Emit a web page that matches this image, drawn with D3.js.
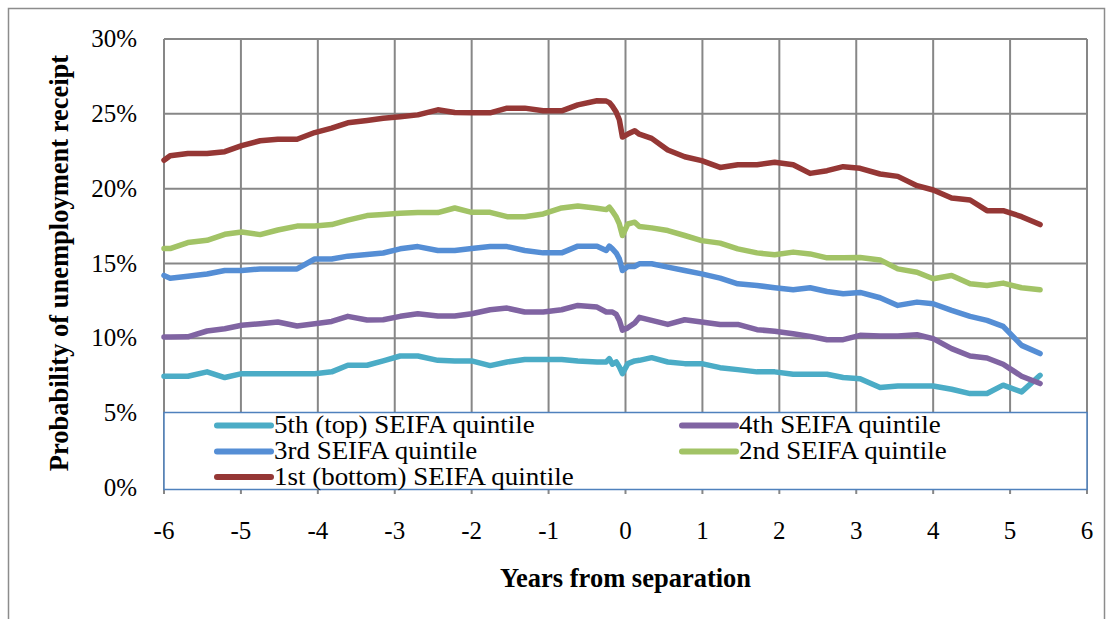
<!DOCTYPE html>
<html>
<head>
<meta charset="utf-8">
<script src="https://cdn.jsdelivr.net/npm/d3@7"></script>
<style>
  html, body { margin: 0; padding: 0; background: #fff; }
  svg { display: block; }
  svg text { font-family: "Liberation Serif", "Times New Roman", Times, serif; }
</style>
</head>
<body>
<div id="holder"></div>
<script>
// years from separation (shared x grid)
var years = [-6.00, -5.92, -5.69, -5.44, -5.21, -4.99, -4.75, -4.52, -4.27, -4.04,
  -3.82, -3.61, -3.36, -3.15, -2.93, -2.70, -2.44, -2.22, -2.00, -1.76,
  -1.54, -1.31, -1.07, -0.83, -0.62, -0.37, -0.25, -0.21, -0.17, -0.12,
  -0.08, -0.04, 0.03, 0.12, 0.18, 0.34, 0.55, 0.77, 0.99, 1.23,
  1.46, 1.71, 1.94, 2.18, 2.40, 2.62, 2.83, 3.05, 3.31, 3.54,
  3.79, 4.00, 4.24, 4.48, 4.70, 4.91, 5.15, 5.39];

// probability (%) per SEIFA quintile
var q5top = [7.47, 7.47, 7.47, 7.76, 7.38, 7.64, 7.64, 7.64, 7.64, 7.64,
  7.76, 8.2, 8.2, 8.49, 8.82, 8.82, 8.53, 8.49, 8.49, 8.18,
  8.42, 8.58, 8.58, 8.58, 8.49, 8.42, 8.42, 8.64, 8.27, 8.42,
  8.09, 7.64, 8.31, 8.49, 8.53, 8.71, 8.42, 8.31, 8.31, 8.04,
  7.91, 7.76, 7.76, 7.6, 7.6, 7.6, 7.38, 7.3, 6.71, 6.82,
  6.82, 6.82, 6.6, 6.31, 6.31, 6.87, 6.42, 7.53];
var q4 = [10.09, 10.09, 10.1, 10.49, 10.64, 10.87, 10.98, 11.09, 10.82, 10.98,
  11.13, 11.47, 11.22, 11.24, 11.47, 11.64, 11.49, 11.49, 11.64, 11.91,
  12.02, 11.76, 11.76, 11.91, 12.2, 12.09, 11.76, 11.76, 11.76, 11.6,
  11.2, 10.55, 10.7, 11.02, 11.4, 11.2, 10.93, 11.24, 11.09, 10.93,
  10.93, 10.58, 10.47, 10.31, 10.13, 9.91, 9.91, 10.2, 10.16, 10.16,
  10.24, 9.98, 9.31, 8.82, 8.69, 8.27, 7.47, 6.98];
var q3 = [14.2, 14.02, 14.15, 14.3, 14.53, 14.53, 14.64, 14.64, 14.64, 15.3,
  15.3, 15.49, 15.6, 15.7, 15.98, 16.13, 15.87, 15.87, 16.0, 16.13,
  16.13, 15.87, 15.71, 15.71, 16.16, 16.16, 15.87, 16.16, 15.98, 15.7,
  15.31, 14.53, 14.8, 14.8, 14.98, 14.98, 14.76, 14.53, 14.31, 14.02,
  13.64, 13.53, 13.38, 13.24, 13.38, 13.13, 12.98, 13.07, 12.71, 12.2,
  12.42, 12.31, 11.87, 11.47, 11.2, 10.8, 9.53, 8.98];
var q2 = [16.0, 16.0, 16.4, 16.55, 16.95, 17.1, 16.93, 17.24, 17.5, 17.5,
  17.6, 17.9, 18.2, 18.27, 18.35, 18.4, 18.4, 18.71, 18.42, 18.42,
  18.13, 18.13, 18.31, 18.71, 18.84, 18.69, 18.6, 18.76, 18.49, 18.1,
  17.64, 16.87, 17.64, 17.76, 17.47, 17.38, 17.2, 16.87, 16.53, 16.36,
  15.98, 15.71, 15.58, 15.76, 15.64, 15.38, 15.38, 15.4, 15.24, 14.64,
  14.42, 13.98, 14.2, 13.64, 13.53, 13.69, 13.38, 13.24];
var q1bottom = [21.9, 22.2, 22.35, 22.35, 22.47, 22.87, 23.2, 23.3, 23.3, 23.75,
  24.04, 24.4, 24.55, 24.7, 24.8, 24.93, 25.27, 25.09, 25.07, 25.07,
  25.38, 25.38, 25.2, 25.2, 25.6, 25.87, 25.85, 25.75, 25.5, 25.1,
  24.6, 23.45, 23.65, 23.87, 23.64, 23.36, 22.58, 22.13, 21.87, 21.42,
  21.6, 21.6, 21.76, 21.6, 21.02, 21.2, 21.47, 21.36, 20.98, 20.82,
  20.2, 19.91, 19.38, 19.24, 18.53, 18.53, 18.13, 17.6];

var seriesNames = ["5th (top) SEIFA quintile", "4th SEIFA quintile", "3rd SEIFA quintile",
  "2nd SEIFA quintile", "1st (bottom) SEIFA quintile"];
var seriesColors = ["#4bacc6", "#8064a2", "#558ed5", "#a2c366", "#953735"];
var seriesValues = [q5top, q4, q3, q2, q1bottom];

var xTicks = [-6, -5, -4, -3, -2, -1, 0, 1, 2, 3, 4, 5, 6];
var yTicks = [0, 5, 10, 15, 20, 25, 30];

var FONT = '"Liberation Serif", "Times New Roman", Times, serif';

var W = 1112, H = 619;
var svg = d3.select('#holder').append('svg').attr('width', W).attr('height', H);

// chart frame
svg.append('rect')
  .attr('x', 8.5).attr('y', 8.5).attr('width', 1096).attr('height', 640)
  .style('fill', 'none').style('stroke', '#8c8c8c').style('stroke-width', 1.5);

var x = d3.scaleLinear().domain([-6, 6]).range([164, 1087]);
var y = d3.scaleLinear().domain([0, 30]).range([488, 39]);

// gridlines
var grid = svg.append('g').style('stroke', '#878787').style('stroke-width', 2);
grid.selectAll('.vg').data(xTicks).enter().append('line')
  .attr('x1', d => x(d)).attr('x2', d => x(d))
  .attr('y1', y(30)).attr('y2', y(0) + 6);
grid.selectAll('.hg').data(yTicks).enter().append('line')
  .attr('x1', x(-6)).attr('x2', x(6))
  .attr('y1', d => y(d)).attr('y2', d => y(d));

// y tick labels
svg.append('g').selectAll('text').data(yTicks).enter().append('text')
  .attr('x', 137).attr('y', d => y(d) + 8)
  .attr('text-anchor', 'end')
  .attr('font-family', FONT)
  .style('font-size', '25px').style('fill', '#000')
  .text(d => d + '%');

// x tick labels
svg.append('g').selectAll('text').data(xTicks).enter().append('text')
  .attr('x', d => x(d)).attr('y', 539)
  .attr('text-anchor', 'middle')
  .attr('font-family', FONT)
  .style('font-size', '25px').style('fill', '#000')
  .text(d => d);

// axis titles
svg.append('text')
  .attr('x', x(0)).attr('y', 587)
  .attr('text-anchor', 'middle')
  .attr('font-family', FONT)
  .style('font-size', '26.5px').style('font-weight', 'bold')
  .text('Years from separation');

svg.append('text')
  .attr('transform', 'translate(68,263) rotate(-90)')
  .attr('text-anchor', 'middle')
  .attr('font-family', FONT)
  .style('font-size', '26.5px').style('font-weight', 'bold')
  .text('Probability of unemployment  receipt');

// series lines
var line = d3.line()
  .x((d, i) => x(years[i]))
  .y(d => y(d));

svg.append('g').selectAll('path').data(seriesValues).enter().append('path')
  .attr('d', d => line(d))
  .style('fill', 'none')
  .style('stroke', (d, i) => seriesColors[i])
  .style('stroke-width', 5.5)
  .style('stroke-linejoin', 'round')
  .style('stroke-linecap', 'round');

// legend box (drawn over the plot, as in the original)
var legend = svg.append('g');
legend.append('rect')
  .attr('x', 164).attr('y', 412.5).attr('width', 923).attr('height', 77)
  .style('fill', '#fff').style('stroke', '#4f81bd').style('stroke-width', 1.5);

var legendPos = [
  {col: 0, row: 0}, {col: 1, row: 0},
  {col: 0, row: 1}, {col: 1, row: 1},
  {col: 0, row: 2}
];
var colX = [217, 682];
var rowY = [425.5, 451.5, 477];

var items = legend.selectAll('.item').data(seriesNames).enter().append('g');
items.append('line')
  .attr('x1', (d, i) => colX[legendPos[i].col])
  .attr('x2', (d, i) => colX[legendPos[i].col] + 54)
  .attr('y1', (d, i) => rowY[legendPos[i].row])
  .attr('y2', (d, i) => rowY[legendPos[i].row])
  .style('stroke', (d, i) => seriesColors[i])
  .style('stroke-width', 6)
  .style('stroke-linecap', 'round');
items.append('text')
  .attr('transform', (d, i) => 'translate(' + (colX[legendPos[i].col] + 57) + ',' +
    (rowY[legendPos[i].row] + 7.5) + ') scale(1.1,1)')
  .attr('font-family', FONT)
  .style('font-size', '24.5px').style('fill', '#000')
  .text(d => d);
</script>
</body>
</html>
